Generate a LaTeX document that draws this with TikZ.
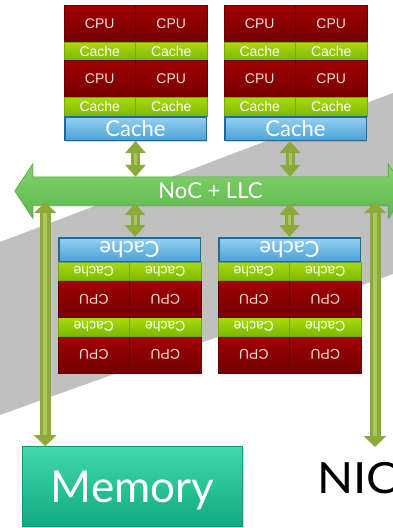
\documentclass[tikz,border=0pt]{standalone}
\usepackage{fontspec}
\setmainfont{Liberation Sans}
\newfontfamily\gillfont{Lato}
\usetikzlibrary{arrows.meta,shadows,backgrounds}

\definecolor{bandgray}{HTML}{C0C0C0}
\definecolor{cputop}{HTML}{A00000}
\definecolor{cpubot}{HTML}{740000}
\definecolor{cpuedge}{HTML}{660000}
\definecolor{cputext}{HTML}{F6DCDC}
\definecolor{lonetop}{HTML}{A8DA10}
\definecolor{lonebot}{HTML}{7DB800}
\definecolor{loneedge}{HTML}{76A800}
\definecolor{ltwotop}{HTML}{96D0EF}
\definecolor{ltwobot}{HTML}{4BA2D8}
\definecolor{ltwoedge}{HTML}{1D6B98}
\definecolor{noctop}{HTML}{84D26F}
\definecolor{nocbot}{HTML}{5DB849}
\definecolor{nocedge}{HTML}{52A83F}
\definecolor{linkdark}{HTML}{8BAA3A}
\definecolor{linklight}{HTML}{A9C75C}
\definecolor{memtop}{HTML}{42D9AB}
\definecolor{membot}{HTML}{10A982}
\definecolor{memedge}{HTML}{0E9A74}

% one quad-core cluster: four CPUs with private caches and a shared cache
\newcommand\cpublock[4]{%
  \begin{scope}[shift={(#2,#3)},rotate=#4]
    \node[cpucell] (#1cpuA) at (-35.75,-49.5) {CPU};
    \node[cpucell] (#1cpuB) at (35.75,-49.5) {CPU};
    \node[lonecell] (#1lA) at (-35.75,-21.75) {Cache};
    \node[lonecell] (#1lB) at (35.75,-21.75) {Cache};
    \node[cpucell] (#1cpuC) at (-35.75,6) {CPU};
    \node[cpucell] (#1cpuD) at (35.75,6) {CPU};
    \node[lonecell] (#1lC) at (-35.75,33.75) {Cache};
    \node[lonecell] (#1lD) at (35.75,33.75) {Cache};
    \node[ltwobox] (#1) at (0,55.5) {Cache};
  \end{scope}}

\begin{document}
\begin{tikzpicture}[x=1pt,y=-1pt,
  cpucell/.style={transform shape, inner sep=0pt, minimum width=71.5pt,
    minimum height=37pt, top color=cputop, bottom color=cpubot,
    draw=cpuedge, line width=0.4pt, text=cputext,
    font=\fontsize{14}{14}\selectfont},
  lonecell/.style={transform shape, inner sep=0pt, minimum width=71.5pt,
    minimum height=18.5pt, top color=lonetop, bottom color=lonebot,
    draw=loneedge, line width=0.4pt, text=white,
    font=\fontsize{14}{14}\selectfont},
  ltwobox/.style={transform shape, inner sep=0pt, minimum width=141.5pt,
    minimum height=23.5pt, top color=ltwotop, bottom color=ltwobot,
    draw=ltwoedge, line width=1.5pt, text=white,
    font=\gillfont\fontsize{22}{22}\selectfont,
    drop shadow={opacity=0.35, shadow xshift=0.8pt, shadow yshift=-1.5pt}},
  nocshape/.style={inner sep=0pt, minimum width=355pt, minimum height=28pt,
    text=white, font=\gillfont\fontsize{22}{22}\selectfont},
  membox/.style={inner sep=0pt, minimum width=220pt, minimum height=80pt,
    top color=memtop, bottom color=membot, draw=memedge, line width=0.6pt,
    text=white, text depth=0pt, font=\gillfont\fontsize{44}{44}\selectfont,
    drop shadow={opacity=0.3, shadow xshift=1pt, shadow yshift=-1.5pt}},
  shortlink/.style={draw=linkdark, line width=9pt,
    {Triangle[width=20pt,length=12pt]}-{Triangle[width=20pt,length=12pt]},
    postaction={draw=linklight, line width=3pt, arrows=-,
      shorten <=12pt, shorten >=12pt}},
  longlink/.style={draw=linkdark, line width=11pt,
    {Triangle[width=22pt,length=11pt]}-{Triangle[width=22pt,length=11pt]},
    postaction={draw=linklight, line width=4pt, arrows=-,
      shorten <=11pt, shorten >=11pt}}]

\useasboundingbox (0,0) rectangle (393,528);

% interconnect label; its arrow-shaped body goes on the background layer
\node[nocshape] (noc) at (210.5,191) {NoC + LLC};

\begin{scope}[on background layer]
  \fill[bandgray] (0,242) -- (393,93) -- (393,274) -- (0,415) -- cycle;
  \path[top color=noctop, bottom color=nocbot, draw=nocedge, line width=0.6pt,
        drop shadow={opacity=0.3, shadow xshift=0.8pt, shadow yshift=-1.5pt}]
    (noc.north west) -- ([yshift=13pt]noc.north west)
    -- ([xshift=-18pt]noc.west) -- ([yshift=-13pt]noc.south west)
    -- (noc.south west) -- (noc.south east)
    -- ([yshift=-13pt]noc.south east) -- ([xshift=18pt]noc.east)
    -- ([yshift=13pt]noc.north east) -- (noc.north east) -- cycle;
\end{scope}

% clusters above and (upside down) below the interconnect
\cpublock{cacheTL}{135.5}{73}{0}
\cpublock{cacheTR}{295.5}{73}{0}
\cpublock{cacheBL}{129.5}{305}{180}
\cpublock{cacheBR}{289.5}{305}{180}

% memory and network interface
\node[membox] (mem) at (132.5,486.5) {Memory};
\node[anchor=base west, inner sep=0pt, font=\gillfont\fontsize{43}{43}\selectfont]
  (nic) at (317,493) {\scalebox{1.1}[1]{NIC}};
\coordinate (memport) at ([xshift=23pt]mem.north west);
\coordinate (nicport) at (375,447);

% links between the clusters and the interconnect
\draw[shortlink] (cacheTL.south) -- (cacheTL.south |- noc.north);
\draw[shortlink] ([xshift=-5.5pt]cacheTR.south)
  -- ([xshift=-5.5pt]cacheTR.south |- noc.north);
\draw[shortlink] ([yshift=2pt]noc.south -| 135,0) -- ([xshift=5.5pt]cacheBL.south);
\draw[shortlink] ([yshift=2pt]noc.south -| cacheBR.south) -- (cacheBR.south);

% links to memory and to the NIC
\draw[longlink] ([yshift=3pt]noc.south -| memport) -- (memport);
\draw[longlink] ([yshift=3pt]noc.south -| nicport) -- (nicport);
\end{tikzpicture}
\end{document}
